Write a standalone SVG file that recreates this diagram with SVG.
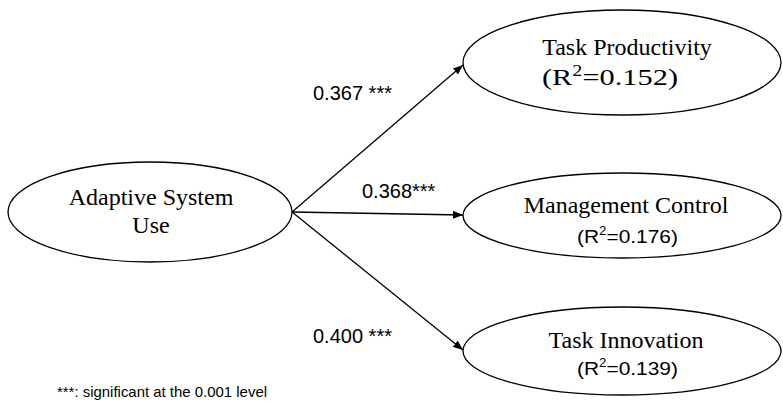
<svg xmlns="http://www.w3.org/2000/svg" width="783" height="410" viewBox="0 0 783 410">
  <style>
    .node { fill: #fff; stroke: #000; stroke-width: 1.3; }
    .serif { font-family: "Liberation Serif", "Times New Roman", serif; font-size: 24px; fill: #000; }
    .sans { font-family: "Liberation Sans", Arial, sans-serif; fill: #000; }
    .edge { stroke: #000; stroke-width: 1.3; fill: none; marker-end: url(#arrow); }
  </style>
  <defs>
    <marker id="arrow" viewBox="0 0 10 8" refX="10" refY="4" markerWidth="10" markerHeight="8" markerUnits="userSpaceOnUse" orient="auto">
      <path d="M0,0 L10,4 L0,8 Z" fill="#000"/>
    </marker>
  </defs>
  <rect width="783" height="410" fill="#fff"/>

  <g id="connectors">
    <line class="edge" x1="292" y1="212" x2="463" y2="65"/>
    <line class="edge" x1="292" y1="212" x2="463" y2="215"/>
    <line class="edge" x1="292" y1="212" x2="463" y2="350"/>
    <text class="sans" x="313" y="100" font-size="20">0.367 ***</text>
    <text class="sans" x="362" y="198" font-size="20">0.368***</text>
    <text class="sans" x="313" y="343" font-size="20">0.400 ***</text>
  </g>

  <g id="adaptive-system-use">
    <ellipse class="node" cx="150" cy="212" rx="142" ry="50"/>
    <text class="serif" x="151" y="205" text-anchor="middle">Adaptive System</text>
    <text class="serif" x="151" y="233" text-anchor="middle">Use</text>
  </g>

  <g id="task-productivity">
    <ellipse class="node" cx="622" cy="62.5" rx="159" ry="52.5"/>
    <text class="serif" x="627" y="55" text-anchor="middle">Task Productivity</text>
    <text class="serif" x="542" y="85" font-size="25" textLength="136" lengthAdjust="spacingAndGlyphs">(R<tspan font-size="16" dy="-9">2</tspan><tspan dy="9">=0.152)</tspan></text>
  </g>

  <g id="management-control">
    <ellipse class="node" cx="622" cy="215.5" rx="159" ry="42.5"/>
    <text class="serif" x="626" y="213" text-anchor="middle">Management Control</text>
    <text class="sans" x="577" y="243" font-size="19" textLength="101" lengthAdjust="spacingAndGlyphs">(R<tspan font-size="12" dy="-8">2</tspan><tspan dy="8">=0.176)</tspan></text>
  </g>

  <g id="task-innovation">
    <ellipse class="node" cx="622" cy="351" rx="159" ry="44"/>
    <text class="serif" x="626" y="348" text-anchor="middle">Task Innovation</text>
    <text class="sans" x="577" y="375" font-size="19" textLength="101" lengthAdjust="spacingAndGlyphs">(R<tspan font-size="12" dy="-8">2</tspan><tspan dy="8">=0.139)</tspan></text>
  </g>

  <text class="sans" x="57" y="397" font-size="14.5" textLength="210" lengthAdjust="spacingAndGlyphs">***: significant at the 0.001 level</text>
</svg>
